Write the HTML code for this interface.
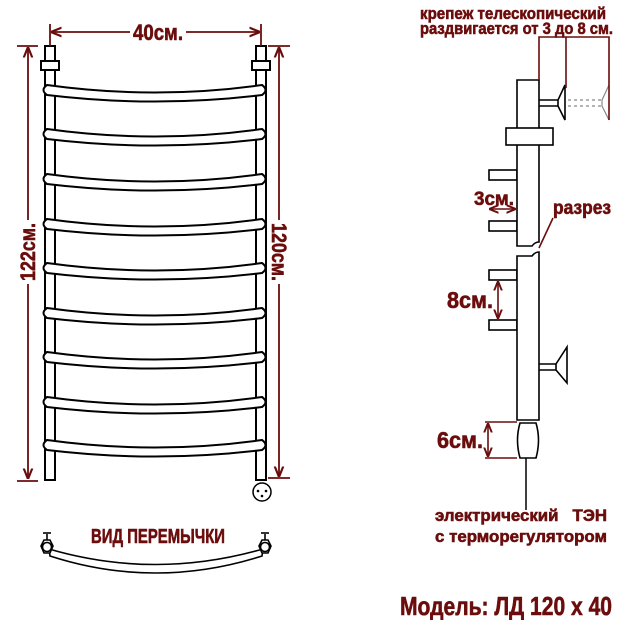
<!DOCTYPE html>
<html><head><meta charset="utf-8"><style>
html,body{margin:0;padding:0;background:#fff;width:620px;height:620px;overflow:hidden}
svg{display:block}
text{font-family:"Liberation Sans Narrow","Liberation Sans",sans-serif;font-weight:bold;fill:#6b0d0d;stroke:#6b0d0d;stroke-width:0.6}
</style></head><body>
<svg width="620" height="620" viewBox="0 0 620 620" xmlns="http://www.w3.org/2000/svg">
<defs>
<marker id="a" viewBox="0 0 10 10" refX="9" refY="5" markerWidth="6" markerHeight="6" orient="auto-start-reverse"><path d="M0,1 L10,5 L0,9" fill="none" stroke="#6b0d0d" stroke-width="2"/></marker>
<g id="rung"><path d="M47,85 Q155,100 262,85 Q269,90 262,95 Q155,108 47,95 Q40,90 47,85 Z" fill="#fff" stroke="#000" stroke-width="2"/></g>
</defs>
<g stroke="#000" stroke-width="2" fill="#fff">
<rect x="45" y="46" width="10" height="434"/>
<rect x="256" y="46" width="10" height="434"/>
<rect x="41" y="61" width="18" height="9"/>
<rect x="252" y="61" width="18" height="9"/>
</g>
<use href="#rung"/>
<use href="#rung" y="44"/>
<use href="#rung" y="89"/>
<use href="#rung" y="134"/>
<use href="#rung" y="178"/>
<use href="#rung" y="223"/>
<use href="#rung" y="267"/>
<use href="#rung" y="312"/>
<use href="#rung" y="355"/>
<circle cx="262" cy="492" r="9" fill="#fff" stroke="#000" stroke-width="1.5"/>
<circle cx="258" cy="491" r="1.3" fill="#000"/><circle cx="266" cy="491" r="1.3" fill="#000"/><circle cx="262" cy="496" r="1.3" fill="#000"/>
<g stroke="#6b0d0d" stroke-width="1.8" fill="none">
<line x1="50" y1="24" x2="50" y2="46"/><line x1="261" y1="24" x2="261" y2="46"/>
<line x1="52" y1="32" x2="130" y2="32" marker-start="url(#a)"/>
<line x1="186" y1="32" x2="259" y2="32" marker-end="url(#a)"/>
<line x1="17" y1="46" x2="38" y2="46"/><line x1="17" y1="481" x2="38" y2="481"/>
<line x1="28" y1="48" x2="28" y2="220" marker-start="url(#a)"/>
<line x1="28" y1="284" x2="28" y2="478" marker-end="url(#a)"/>
<line x1="268" y1="46" x2="290" y2="46"/><line x1="268" y1="478" x2="290" y2="478"/>
<line x1="279" y1="48" x2="279" y2="220" marker-start="url(#a)"/>
<line x1="279" y1="284" x2="279" y2="476" marker-end="url(#a)"/>
</g>
<text x="158" y="40" font-size="22" text-anchor="middle" textLength="50" lengthAdjust="spacingAndGlyphs">40см.</text>
<text transform="translate(35,252) rotate(-90)" font-size="21" text-anchor="middle" textLength="58" lengthAdjust="spacingAndGlyphs">122см.</text>
<text transform="translate(272,252) rotate(90)" font-size="21" text-anchor="middle" textLength="58" lengthAdjust="spacingAndGlyphs">120см.</text>
<text x="158" y="543" font-size="20" text-anchor="middle" textLength="134" lengthAdjust="spacingAndGlyphs">ВИД ПЕРЕМЫЧКИ</text>
<g stroke="#000" stroke-width="1.6" fill="#fff">
<path d="M50,556 Q155,590 262,556 L263,549 Q155,580 49,549 Z"/>
<polygon points="41,546 44,540 50,540 53,546 50,553 44,553"/><circle cx="47" cy="547" r="4.5"/>
<line x1="47" y1="540" x2="47" y2="534"/><line x1="43" y1="533" x2="51" y2="533"/>
<polygon points="259,546 262,540 268,540 271,546 268,553 262,553"/><circle cx="265" cy="547" r="4.5"/>
<line x1="265" y1="540" x2="265" y2="534"/><line x1="261" y1="533" x2="269" y2="533"/>
</g>
<g stroke="#000" stroke-width="1.6" fill="#fff">
<rect x="489" y="170" width="28" height="10"/><rect x="489" y="221" width="28" height="10"/>
<rect x="489" y="270" width="28" height="10"/><rect x="489" y="320" width="28" height="10"/>
<path d="M517,80 L539,80 L539,242 Q535,242 532,246 L517,246 Z"/>
<path d="M517,256 L532,256 Q535,252 539,252 L539,420 L517,420 Z"/>
<rect x="506" y="128" width="47" height="17"/>
<line x1="539" y1="100" x2="560" y2="100"/><line x1="539" y1="106" x2="560" y2="106"/>
<path d="M565,85 L558,100 L558,106 L565,120 Z" fill="#fff"/>
<line x1="539" y1="364" x2="557" y2="364"/><line x1="539" y1="370" x2="557" y2="370"/>
<path d="M567,347 L556,364 L556,370 L567,383 Z" fill="#fff"/>
<path d="M520,423 L536,423 Q541,440 536,458 L520,458 Q515,440 520,423 Z"/>
</g>
<g stroke="#888" stroke-width="1.2" fill="none" stroke-dasharray="3,3">
<line x1="568" y1="100" x2="602" y2="100"/><line x1="568" y1="106" x2="602" y2="106"/>
<path d="M609,85 L602,100 L602,106 L609,120" stroke-dasharray="none"/>
</g>
<line x1="526" y1="458" x2="526" y2="510" stroke="#000" stroke-width="1.5"/>
<g stroke="#6b0d0d" stroke-width="1.6" fill="none">
<polyline points="539,80 539,37 609,37 609,120"/>
<line x1="566" y1="37" x2="566" y2="88"/>
<line x1="490" y1="209" x2="515" y2="209" marker-start="url(#a)" marker-end="url(#a)"/>
<line x1="498" y1="282" x2="498" y2="318" marker-start="url(#a)" marker-end="url(#a)"/>
<line x1="488" y1="424" x2="488" y2="456" marker-start="url(#a)" marker-end="url(#a)"/>
<line x1="485" y1="422" x2="517" y2="422"/><line x1="485" y1="458" x2="517" y2="458"/>
<line x1="553" y1="218" x2="539" y2="248"/>
</g>
<text x="420" y="19" font-size="17" textLength="186" lengthAdjust="spacingAndGlyphs">крепеж телескопический</text>
<text x="420" y="34" font-size="17" textLength="193" lengthAdjust="spacingAndGlyphs">раздвигается от 3 до 8 см.</text>
<text x="474" y="205" font-size="19" textLength="40" lengthAdjust="spacingAndGlyphs">3см.</text>
<text x="553" y="214" font-size="19" textLength="58" lengthAdjust="spacingAndGlyphs">разрез</text>
<text x="447" y="308" font-size="23" textLength="46" lengthAdjust="spacingAndGlyphs">8см.</text>
<text x="437" y="448" font-size="23" textLength="46" lengthAdjust="spacingAndGlyphs">6см.</text>
<text x="435" y="521" font-size="17" textLength="172" lengthAdjust="spacingAndGlyphs">электрический&#160;&#160; ТЭН</text>
<text x="435" y="542" font-size="17" textLength="172" lengthAdjust="spacingAndGlyphs">с терморегулятором</text>
<text x="400" y="615" font-size="26" textLength="212" lengthAdjust="spacingAndGlyphs">Модель: ЛД 120 х 40</text>
</svg>
</body></html>
